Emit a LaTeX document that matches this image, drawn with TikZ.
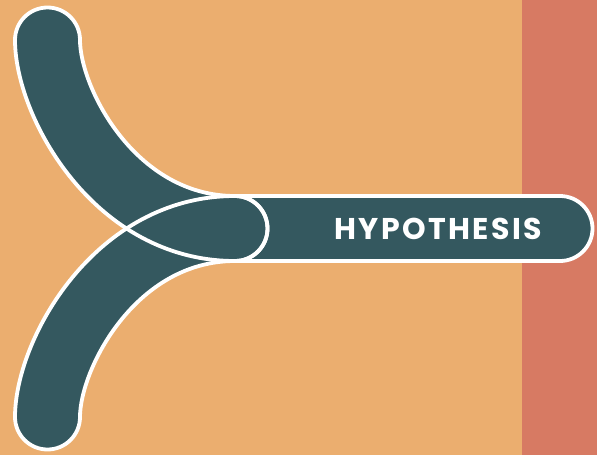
\documentclass[tikz,border=0pt]{standalone}
\usepackage{fontspec}
\setmainfont{Poppins}
\newfontfamily\hypfont[LetterSpace=8]{Poppins}
\definecolor{bgorange}{HTML}{EBAE6F}
\definecolor{bgred}{HTML}{D77A63}
\definecolor{teal}{HTML}{34585F}
\begin{document}
\begin{tikzpicture}[x=1pt,y=-1pt,
  armfill/.style={fill=teal},
  armline/.style={draw=white,line width=3.8pt,line join=round},
  label/.style={text=white,font=\hypfont\fontsize{30}{30}\selectfont\bfseries,inner sep=0pt}]
\useasboundingbox (0,0) rectangle (597,455);
\fill[bgorange] (0,0) rectangle (597,455);
\fill[bgred] (522,0) rectangle (597,455);
% bar
\path[armfill,armline] (200,196) -- (560,196) arc[start angle=-90,end angle=90,radius=32.5] -- (200,261) -- cycle;
% arms
\def\toparm{(15,40) .. controls (15,118) and (95,261) .. (235,261)
  arc[start angle=90,end angle=-90,radius=32.5]
  .. controls (135,196) and (80,87) .. (80,40)
  arc[start angle=0,end angle=-180,radius=32.5] -- cycle}
\def\botarm{(15,417) .. controls (15,339) and (95,196) .. (235,196)
  arc[start angle=-90,end angle=90,radius=32.5]
  .. controls (135,261) and (80,370) .. (80,417)
  arc[start angle=0,end angle=180,radius=32.5] -- cycle}
\fill[teal] \toparm;
\fill[teal] \botarm;
\draw[armline] \toparm;
\draw[armline] \botarm;
\node[label] (hyp) at (438,228.5) {HYPOTHESIS};
\end{tikzpicture}
\end{document}
